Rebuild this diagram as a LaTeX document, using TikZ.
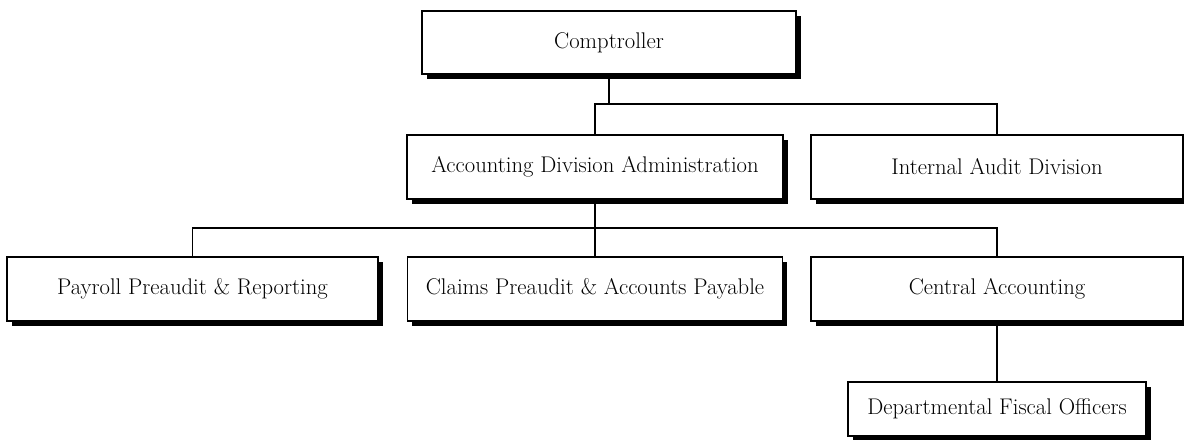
\documentclass[tikz,border=0pt]{standalone}
\usepackage{fontspec}
\setmainfont{Latin Modern Roman}
\usetikzlibrary{shadows}
\begin{document}
\begin{tikzpicture}[x=0.75pt,y=-0.75pt,
  orgbox/.style={draw=black, line width=1.1pt, fill=white, inner sep=0pt,
    font=\fontsize{17}{20}\selectfont,
    drop shadow={shadow xshift=3.5pt, shadow yshift=-3.5pt, fill=black, opacity=1}},
  conn/.style={line width=1pt, black}]
\useasboundingbox (0,0) rectangle (1184,439);
\node[orgbox, minimum width=374*0.75pt, minimum height=63*0.75pt] (comp) at (609,42.5) {Comptroller};
\node[orgbox, minimum width=376*0.75pt, minimum height=64*0.75pt] (acc) at (595,167) {Accounting Division Administration};
\node[orgbox, minimum width=372*0.75pt, minimum height=64*0.75pt] (aud) at (997,167) {Internal Audit Division};
\node[orgbox, minimum width=371*0.75pt, minimum height=64*0.75pt] (pay) at (192.5,289) {Payroll Preaudit \& Reporting};
\node[orgbox, minimum width=375*0.75pt, minimum height=64*0.75pt] (cla) at (595,289) {Claims Preaudit \& Accounts Payable};
\node[orgbox, minimum width=372*0.75pt, minimum height=64*0.75pt] (cen) at (997,289) {Central Accounting};
\node[orgbox, minimum width=298*0.75pt, minimum height=54*0.75pt] (dep) at (997,409) {Departmental Fiscal Officers};
\coordinate (j1) at (609,104);
\coordinate (j2) at (595,228);
\draw[conn] (comp.south) -- (j1);
\draw[conn] (acc.north) |- (j1) -| (aud.north);
\draw[conn] (acc.south) -- (j2);
\draw[conn] (pay.north) |- (j2) -| (cen.north);
\draw[conn] (j2) -- (cla.north);
\draw[conn] (cen.south) -- (dep.north);
\end{tikzpicture}
\end{document}
